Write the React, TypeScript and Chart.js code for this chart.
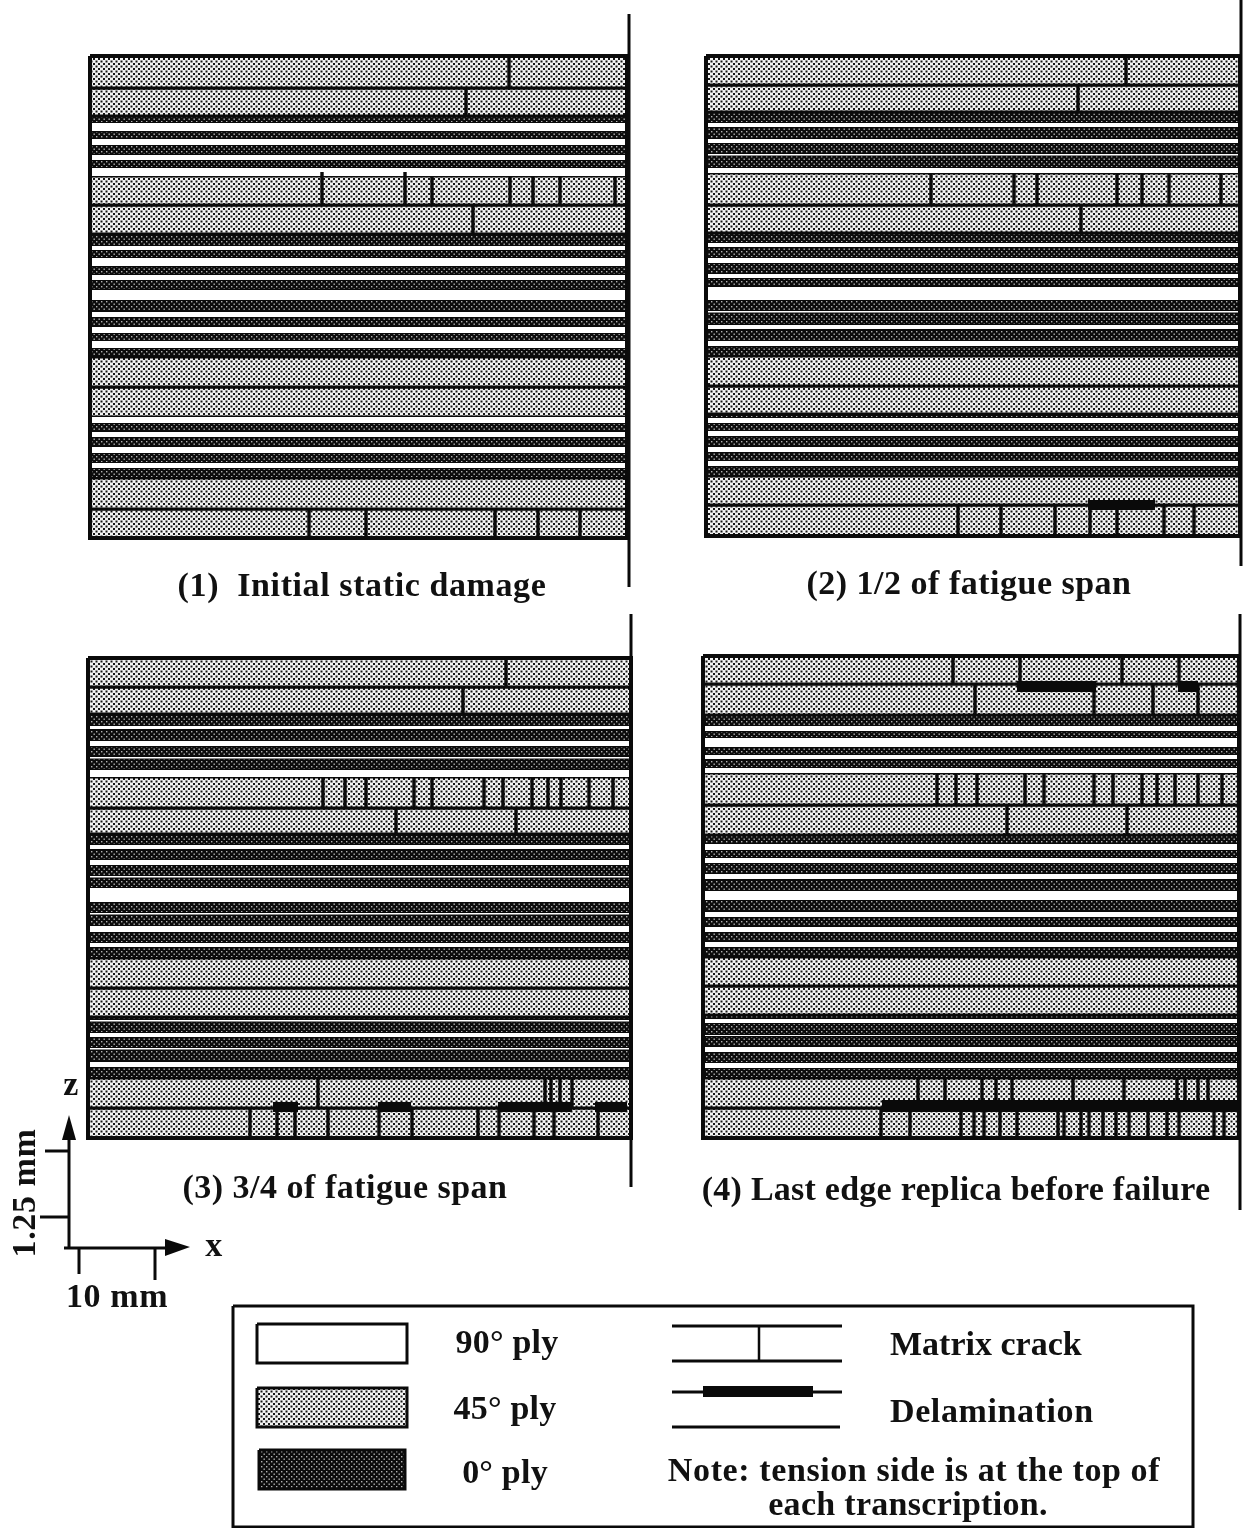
import { useEffect, useRef } from "react";
import { Chart, registerables } from "chart.js";

Chart.register(...registerables);

// Ply stacks: interface heights through the thickness, read from the replicas
const panel1Interfaces = [56, 88, 116, 123, 131, 139, 145, 155, 160, 168, 176, 205, 234, 246, 250, 258, 266, 275, 280, 290, 300, 312, 317, 327, 333, 341, 348, 357, 387, 417, 423, 432, 437, 447, 453, 463, 468, 478, 509, 538];
const panel2Interfaces = [56, 85, 112, 123, 127, 139, 143, 154, 155.5, 168, 173, 205, 233, 243, 247, 258, 263, 274, 278, 287, 300, 311, 312.5, 325, 329, 341, 346, 356, 386, 414, 418, 423, 431, 436, 447, 452, 461, 466, 476, 505, 536];
const panel3Interfaces = [658, 687, 714, 726, 729, 741, 746, 757, 758.5, 770, 777, 808, 834, 845, 849, 860, 865, 876, 877.5, 888, 902, 913, 914.5, 926, 932, 943, 947, 958, 988, 1017, 1020, 1021.5, 1033, 1037, 1048, 1049.5, 1062, 1067, 1078, 1108, 1138];
const panel4Interfaces = [656, 684, 715, 726, 731, 738, 747, 755, 759, 768, 773, 805, 835, 844, 850, 858, 863, 874, 879, 891, 900, 912, 917, 927, 932, 942, 947, 957, 986, 1015, 1019, 1023, 1035, 1036, 1047, 1052, 1063, 1068, 1078, 1108, 1138];

const panel1Angles = [45, 45, 0, 90, 0, 90, 0, 90, 0, 90, 45, 45, 0, 90, 0, 90, 0, 90, 0, 90, 0, 90, 0, 90, 0, 90, 0, 45, 45, 90, 0, 90, 0, 90, 0, 90, 0, 45, 45];
const laterPanelAngles = [45, 45, 0, 90, 0, 90, 0, 90, 0, 90, 45, 45, 0, 90, 0, 90, 0, 90, 0, 90, 0, 90, 0, 90, 0, 90, 0, 45, 45, 0, 90, 0, 90, 0, 90, 0, 90, 0, 45, 45];

// Length extents of each transcription and the centre line
const panel1Span = [90, 627];
const panel2Span = [706, 1240];
const panel3Span = [88, 631];
const panel4Span = [703, 1239];
const panel1Centre = [629, 14, 587];
const panel2Centre = [1241, 0, 566];
const panel3Centre = [631, 614, 1187];
const panel4Centre = [1240, 614, 1210];

// Matrix cracks: [ply index, crack locations]
const panel1Cracks: [number, number[]][] = [
  [0, [509]],
  [1, [466]],
  [10, [322, 405, 432, 510, 533, 560, 615]],
  [11, [473]],
  [38, [309, 366, 495, 538, 580]],
];
const panel1RaisedCracks = [322, 405];
const panel2Cracks: [number, number[]][] = [
  [0, [1126]],
  [1, [1078]],
  [10, [931, 1014, 1037, 1117, 1142, 1169, 1221]],
  [11, [1081]],
  [39, [958, 1001, 1055, 1090, 1117, 1164, 1194]],
];
const panel3Cracks: [number, number[]][] = [
  [0, [506]],
  [1, [463]],
  [10, [323, 345, 366, 414, 432, 484, 503, 532, 548, 561, 589, 613]],
  [11, [396, 516]],
  [38, [318, 545, 551, 560, 572]],
  [39, [250, 277, 295, 328, 379, 412, 478, 499, 534, 554, 598]],
];
const panel4Cracks: [number, number[]][] = [
  [0, [953, 1020, 1122, 1179]],
  [1, [975, 1094, 1153, 1198]],
  [10, [937, 956, 977, 1025, 1044, 1094, 1113, 1142, 1157, 1175, 1198, 1222]],
  [11, [1007, 1127]],
  [38, [918, 945, 982, 996, 1012, 1073, 1124, 1177, 1185, 1198, 1208]],
  [39, [881, 910, 961, 974, 984, 1000, 1017, 1058, 1064, 1081, 1089, 1103, 1116, 1129, 1148, 1167, 1179, 1214, 1224]],
];

// Delaminations: [from, to, upper, lower]
const panel2Delaminations = [[1088, 1155, 500, 510]];
const panel3Delaminations = [
  [273, 298, 1102, 1112],
  [378, 411, 1102, 1112],
  [498, 572, 1102, 1112],
  [595, 627, 1102, 1112],
];
const panel4Delaminations = [
  [1017, 1096, 681, 692],
  [1178, 1198, 681, 692],
  [882, 1238, 1100, 1112],
];

const captionLabels = ["(1)  Initial static damage", "(2) 1/2 of fatigue span", "(3) 3/4 of fatigue span", "(4) Last edge replica before failure"];
const plyKeyLabels = ["90° ply", "45° ply", "0° ply"];
const damageKeyLabels = ["Matrix crack", "Delamination"];
const noteLabels = ["Note: tension side is at the top of", "each transcription."];
const scaleLabels = ["z", "x", "10 mm", "1.25 mm"];

const FONT = '"Liberation Serif", serif';

type Pt = { x: number; y: number };

function makePattern(kind: 45 | 0): CanvasPattern | string {
  const c = document.createElement("canvas");
  c.width = 5;
  c.height = 5;
  const g = c.getContext("2d")!;
  if (kind === 45) {
    g.fillStyle = "#f2f2f2";
    g.fillRect(0, 0, 5, 5);
    g.fillStyle = "#161616";
    g.fillRect(0.5, 0.5, 2, 2);
    g.fillRect(3, 3, 2, 2);
  } else {
    g.fillStyle = "#0c0c0c";
    g.fillRect(0, 0, 5, 5);
    g.fillStyle = "#b4b4b4";
    g.fillRect(1, 1, 1.4, 1.4);
    g.fillRect(3.5, 3.5, 1.4, 1.4);
  }
  return g.createPattern(c, "repeat") || "#888";
}

const box = (x0: number, x1: number, y0: number, y1: number): Pt[] => [
  { x: x0, y: y0 },
  { x: x1, y: y0 },
  { x: x1, y: y1 },
  { x: x0, y: y1 },
  { x: x0, y: y0 },
];

const seg = (x0: number, y0: number, x1: number, y1: number): Pt[] => [
  { x: x0, y: y0 },
  { x: x1, y: y1 },
];

const shape = (data: Pt[], fill: any, lineWidth = 0, order = 4) => ({
  data,
  showLine: true,
  fill: "shape",
  backgroundColor: fill,
  borderColor: "#0a0a0a",
  borderWidth: lineWidth,
  pointRadius: 0,
  order,
});

const stroke = (data: Pt[], lineWidth: number, order = 1) => ({
  data,
  showLine: true,
  fill: false,
  borderColor: "#0a0a0a",
  borderWidth: lineWidth,
  pointRadius: 0,
  order,
});

const textPlugin = {
  id: "pageText",
  afterDraw(chart: any) {
    const { ctx, scales } = chart;
    const put = (s: string, x: number, y: number, align: CanvasTextAlign = "center", rot = 0, spacing = 0.6) => {
      ctx.save();
      ctx.translate(scales.x.getPixelForValue(x), scales.y.getPixelForValue(y));
      ctx.rotate(rot);
      ctx.font = `bold 34px ${FONT}`;
      ctx.letterSpacing = `${spacing}px`;
      ctx.textAlign = align;
      ctx.textBaseline = "middle";
      ctx.fillStyle = "#111";
      ctx.fillText(s, 0, 0);
      ctx.restore();
    };
    put(captionLabels[0], 362, 587);
    put(captionLabels[1], 969, 585, "center", 0, 0.5);
    put(captionLabels[2], 345, 1189, "center", 0, 0.5);
    put(captionLabels[3], 956, 1191, "center", 0, 0.25);
    put(plyKeyLabels[0], 507, 1344, "center", 0, 0.2);
    put(plyKeyLabels[1], 505, 1410, "center", 0, 0.2);
    put(plyKeyLabels[2], 505, 1474, "center", 0, 0.2);
    put(damageKeyLabels[0], 890, 1346, "left", 0, 0);
    put(damageKeyLabels[1], 890, 1413, "left");
    put(noteLabels[0], 914, 1472);
    put(noteLabels[1], 908, 1506, "center", 0, 0.3);
    put(scaleLabels[0], 71, 1086);
    put(scaleLabels[1], 214, 1247);
    put(scaleLabels[2], 117, 1298);
    put(scaleLabels[3], 26, 1193, "center", -Math.PI / 2);
  },
};

export default function App() {
  const ref = useRef<HTMLCanvasElement>(null);

  useEffect(() => {
    const fill45 = makePattern(45);
    const fill0 = makePattern(0);
    const fills: Record<number, any> = { 90: "#ffffff", 45: fill45, 0: fill0 };
    const datasets: any[] = [];

    const panels: [number[], number[], number[], number[], [number, number[]][], number[][]][] = [
      [panel1Span, panel1Interfaces, panel1Angles, panel1Centre, panel1Cracks, []],
      [panel2Span, panel2Interfaces, laterPanelAngles, panel2Centre, panel2Cracks, panel2Delaminations],
      [panel3Span, panel3Interfaces, laterPanelAngles, panel3Centre, panel3Cracks, panel3Delaminations],
      [panel4Span, panel4Interfaces, laterPanelAngles, panel4Centre, panel4Cracks, panel4Delaminations],
    ];

    for (const [span, interfaces, angles, centre, cracks, delams] of panels) {
      angles.forEach((angle, i) => {
        if (angle === 90) {
          datasets.push(shape(box(span[0], span[1], interfaces[i], interfaces[i + 1]), fills[90], 0, 3));
        } else {
          datasets.push(shape(box(span[0], span[1], interfaces[i], interfaces[i + 1]), fills[angle], angle === 45 ? 3 : 2, 4));
        }
      });
      datasets.push(stroke(box(span[0], span[1], interfaces[0], interfaces[interfaces.length - 1]), 4, 2));
      for (const [ply, xs] of cracks) {
        for (const x of xs) datasets.push(stroke(seg(x, interfaces[ply], x, interfaces[ply + 1]), 3.4));
      }
      for (const [a, b, u, l] of delams) datasets.push(shape(box(a, b, u, l), "#0a0a0a", 0, 0));
      datasets.push(stroke(seg(centre[0], centre[1], centre[0], centre[2]), 3));
    }
    for (const x of panel1RaisedCracks) datasets.push(stroke(seg(x, 172, x, 177), 3.4));

    // scale bars
    datasets.push(stroke(seg(69, 1248, 69, 1130), 3));
    datasets.push(stroke(seg(64, 1248, 170, 1248), 3));
    datasets.push(stroke(seg(45, 1151, 69, 1151), 3));
    datasets.push(stroke(seg(40, 1217, 69, 1217), 3));
    datasets.push(stroke(seg(79, 1248, 79, 1274), 3));
    datasets.push(stroke(seg(155, 1248, 155, 1280), 3));
    datasets.push(shape([{ x: 69, y: 1115 }, { x: 76, y: 1140 }, { x: 62, y: 1140 }, { x: 69, y: 1115 }], "#0a0a0a"));
    datasets.push(shape([{ x: 190, y: 1247 }, { x: 165, y: 1239 }, { x: 165, y: 1256 }, { x: 190, y: 1247 }], "#0a0a0a"));

    // key frame and swatches
    datasets.push(stroke(box(233, 1193, 1306, 1527), 3));
    datasets.push(shape(box(257, 407, 1324, 1363), "#ffffff", 3));
    datasets.push(shape(box(257, 407, 1388, 1427), fill45, 3));
    datasets.push(shape(box(259, 405, 1450, 1489), fill0, 3));
    datasets.push(stroke(seg(672, 1326, 842, 1326), 3));
    datasets.push(stroke(seg(672, 1361, 842, 1361), 3));
    datasets.push(stroke(seg(759, 1326, 759, 1361), 2.5));
    datasets.push(stroke(seg(672, 1392, 842, 1392), 3));
    datasets.push(shape(box(703, 813, 1386, 1397), "#0a0a0a", 0, 0));
    datasets.push(stroke(seg(672, 1427, 840, 1427), 3));

    const chart = new Chart(ref.current!, {
      type: "scatter",
      data: { datasets },
      options: {
        animation: false,
        responsive: false,
        devicePixelRatio: 1,
        events: [],
        layout: { padding: 0 },
        elements: { line: { tension: 0, borderCapStyle: "butt", borderJoinStyle: "miter" } },
        scales: {
          x: { type: "linear", min: 0, max: 1244, display: false },
          y: { type: "linear", min: 0, max: 1528, reverse: true, display: false },
        },
        plugins: { legend: { display: false }, tooltip: { enabled: false }, title: { display: false } },
      },
      plugins: [textPlugin],
    } as any);
    return () => chart.destroy();
  }, []);

  return (
    <div style={{ position: "absolute", left: 0, top: 0, width: 1244, height: 1528, background: "#fff", overflow: "hidden" }}>
      <canvas ref={ref} width={1244} height={1528} style={{ display: "block" }} />
    </div>
  );
}
